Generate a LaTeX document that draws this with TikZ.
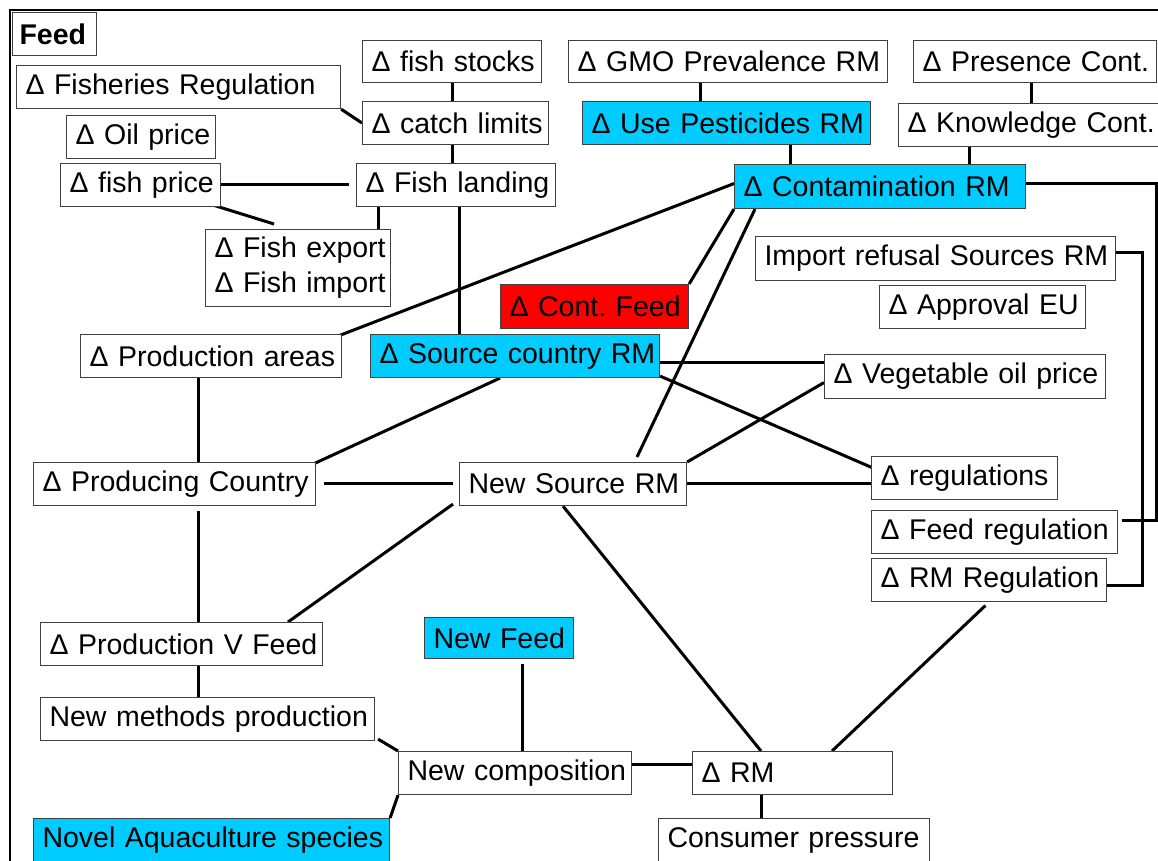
\documentclass[tikz,border=0pt]{standalone}
\usepackage{fontspec}
\setmainfont{Liberation Sans}
\usetikzlibrary{calc}
\pgfdeclarelayer{bg}
\pgfsetlayers{bg,main}
\definecolor{skyc}{RGB}{0,204,255}
\definecolor{redc}{RGB}{255,0,0}
\hyphenpenalty=10000
\exhyphenpenalty=10000
\tikzset{
  box/.style={draw=black!75, line width=1.1pt, fill=white, anchor=north west,
    inner xsep=9pt, inner ysep=0pt, align=left,
    font=\fontsize{28.5}{35}\selectfont},
  bluebox/.style={box, fill=skyc},
  redbox/.style={box, fill=redc},
  link/.style={line width=3pt, black},
  frame/.style={line width=2.2pt, black}
}
\begin{document}
\begin{tikzpicture}[x=1pt,y=-1pt]
\useasboundingbox (0,0) rectangle (1158,860);
% nodes
\node[box, text width=70pt, minimum height=43pt, inner xsep=7pt, font=\fontsize{28.5}{35}\selectfont\bfseries] (feed) at (12,12) {Feed};
\node[box, text width=161pt, minimum height=42pt] (stocks) at (362,40) {Δ~fish~stocks};
\node[box, text width=306pt, minimum height=43pt] (fishreg) at (16,65) {Δ~Fisheries~Regulation};
\node[box, text width=168pt, minimum height=43pt] (catch) at (362,101) {Δ~catch~limits};
\node[box, text width=131pt, minimum height=43pt] (oil) at (66,115) {Δ~Oil~price};
\node[box, text width=142pt, minimum height=43pt] (fprice) at (60,163) {Δ~fish~price};
\node[box, text width=181pt, minimum height=43pt] (landing) at (356,163) {Δ~Fish~landing};
\node[box, text width=167pt, minimum height=77pt] (export) at (205,229) {Δ~Fish~export\\Δ~Fish~import};
\node[box, text width=301pt, minimum height=42pt] (gmo) at (568,40) {Δ~GMO~Prevalence~RM};
\node[box, text width=225pt, minimum height=42pt] (presence) at (913,40) {Δ~Presence~Cont.};
\node[bluebox, text width=270pt, minimum height=43pt] (pest) at (582,101) {Δ~Use~Pesticides~RM};
\node[box, text width=244pt, minimum height=43pt] (know) at (898,103) {Δ~Knowledge~Cont.};
\node[bluebox, text width=273pt, minimum height=44pt] (contam) at (734,164) {Δ~Contamination~RM};
\node[box, text width=342pt, minimum height=44pt] (refusal) at (755,236) {Import~refusal~Sources~RM};
\node[box, text width=188pt, minimum height=43pt] (approval) at (879,285) {Δ~Approval~EU};
\node[redbox, text width=170pt, minimum height=44pt] (contfeed) at (500,284) {Δ~Cont.~Feed};
\node[box, text width=243pt, minimum height=43pt] (areas) at (80,334) {Δ~Production~areas};
\node[bluebox, text width=271pt, minimum height=43pt] (source) at (370,334) {Δ~Source~country~RM};
\node[box, text width=263pt, minimum height=44pt] (veg) at (824,354) {Δ~Vegetable~oil~price};
\node[box, text width=264pt, minimum height=43pt] (producing) at (33,462) {Δ~Producing~Country};
\node[box, text width=209pt, minimum height=43pt] (newsource) at (459,462) {New~Source~RM};
\node[box, text width=168pt, minimum height=43pt] (regs) at (871,456) {Δ~regulations};
\node[box, text width=228pt, minimum height=43pt] (feedreg) at (871,510) {Δ~Feed~regulation};
\node[box, text width=217pt, minimum height=43pt] (rmreg) at (871,558) {Δ~RM~Regulation};
\node[box, text width=264pt, minimum height=43pt] (prodv) at (40,622) {Δ~Production~V~Feed};
\node[bluebox, text width=131pt, minimum height=41pt] (newfeed) at (424,617) {New~Feed};
\node[box, text width=316pt, minimum height=43pt] (methods) at (40,697) {New~methods~production};
\node[box, text width=215pt, minimum height=43pt] (comp) at (398,751) {New~composition};
\node[box, text width=182pt, minimum height=43pt] (rm) at (692,751) {Δ~RM};
\node[box, text width=253pt, minimum height=43pt] (consumer) at (658,818) {Consumer~pressure};
\node[bluebox, text width=338pt, minimum height=43pt] (novel) at (33,818) {Novel~Aquaculture~species};
% connectors
\begin{pgfonlayer}{bg}
\draw[frame] (10,10) rectangle (1220,920);
\draw[link] (stocks.south) -- (stocks.south |- catch.north);
\draw[link] (fishreg.south east) -- (catch.west);
\draw[link] ($(catch.south west)+(90,0)$) coordinate (t) -- (t |- landing.north);
\draw[link, shorten >=7pt] ($(fprice.east)+(0,-1)$) coordinate (t) -- (t -| landing.west);
\draw[link] ($(fprice.south east)+(-8,-2)$) -- ($(export.north west)+(69,-5)$);
\draw[link] ($(landing.south west)+(22,0)$) coordinate (t) -- (t |- export.north);
\draw[link] ($(landing.south west)+(103,0)$) coordinate (t) -- (t |- source.north);
\draw[link] ($(contam.west)+(0,-3)$) -- ($(areas.north east)+(-4,2)$);
\draw[link] ($(pest.north west)+(118,0)$) coordinate (t) -- (t |- gmo.south);
\draw[link] ($(know.north west)+(133,0)$) coordinate (t) -- (t |- presence.south);
\draw[link] ($(contam.north west)+(56,0)$) coordinate (t) -- (t |- pest.south);
\draw[link] ($(contam.north west)+(235,0)$) coordinate (t) -- (t |- know.south);
\draw[link] ($(contam.east)+(0,-3)$) -- ++(130,0) |- ($(feedreg.east)+(4,-12)$);
\draw[link] ($(refusal.east)+(0,-6)$) -- ++(26,0) |- ($(rmreg.east)+(0,5)$);
\draw[link] (contam.south west) -- (contfeed.north east);
\draw[link] ($(contam.south west)+(21,0)$) -- ($(newsource.north west)+(178,-5)$);
\draw[link] ($(source.east)+(0,6)$) coordinate (t) -- (t -| veg.west);
\draw[link] ($(source.south east)+(0,-2)$) -- ($(regs.north west)+(2,12)$);
\draw[link] (newsource.north east) -- ($(veg.west)+(0,6)$);
\draw[link] ($(newsource.east)+(0,-1)$) coordinate (t) -- (t -| regs.west);
\draw[link] ($(source.south west)+(130,0)$) -- ($(producing.north east)+(-5,3)$);
\draw[link] ($(areas.south west)+(118,0)$) coordinate (t) -- (t |- producing.north);
\draw[link, shorten <=8pt, shorten >=6pt] ($(producing.east)+(0,-1)$) coordinate (t) -- (t -| newsource.west);
\draw[link] ($(newsource.south west)+(-6,-2)$) -- ($(prodv.north west)+(248,0)$);
\draw[link, shorten <=5pt] ($(producing.south west)+(165,0)$) coordinate (t) -- (t |- prodv.north);
\draw[link] ($(prodv.south west)+(158,0)$) coordinate (t) -- (t |- methods.north);
\draw[link] ($(methods.south east)+(3,-2)$) -- (comp.north west);
\draw[link] (comp.south west) -- (novel.north east);
\draw[link, shorten <=5pt] ($(newfeed.south west)+(98,0)$) coordinate (t) -- (t |- comp.north);
\draw[link] ($(comp.east)+(0,-9)$) coordinate (t) -- (t -| rm.west);
\draw[link] ($(newsource.south west)+(104,0)$) -- ($(rm.north west)+(69,0)$);
\draw[link, shorten <=5pt] ($(rmreg.south west)+(118,0)$) -- ($(rm.north west)+(140,0)$);
\draw[link] ($(rm.south west)+(69,0)$) coordinate (t) -- (t |- consumer.north);
\end{pgfonlayer}
\end{tikzpicture}
\end{document}
